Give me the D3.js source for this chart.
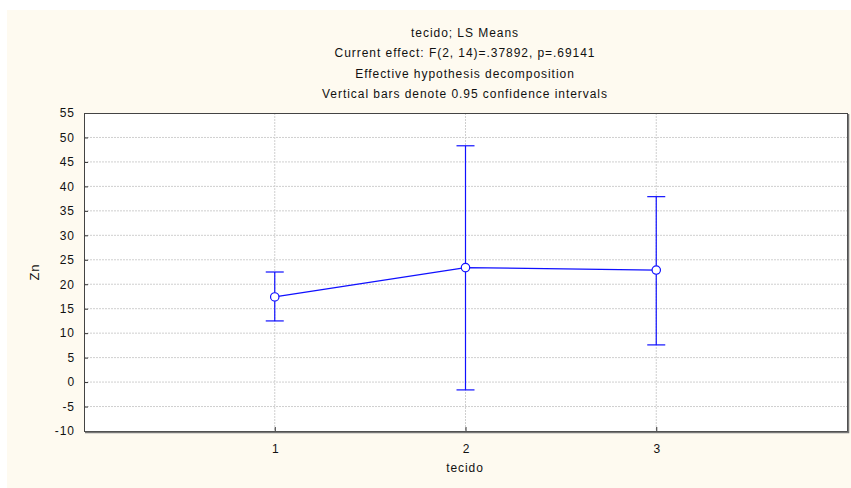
<!DOCTYPE html>
<html>
<head>
<meta charset="utf-8">
<script src="https://cdn.jsdelivr.net/npm/d3@7"></script>
<style>
html,body{margin:0;padding:0;background:#fff;}
svg{display:block;font-family:"Liberation Sans",Arial,sans-serif;}
</style>
</head>
<body>
<svg id="chart" width="851" height="488"></svg>
<script>
const categories = [1, 2, 3];
const means = [17.4, 23.4, 22.9];
const upper = [22.5, 48.3, 37.9];
const lower = [12.5, -1.6, 7.6];
const yTicks = [-10, -5, 0, 5, 10, 15, 20, 25, 30, 35, 40, 45, 50, 55];
const titleLines = ["tecido; LS Means", "Current effect: F(2, 14)=.37892, p=.69141", "Effective hypothesis decomposition", "Vertical bars denote 0.95 confidence intervals"];

const svg = d3.select("#chart");
const W = 851, H = 488;
const m = {left: 84, right: 847, top: 113, bottom: 431};
const FONT = "Liberation Sans, Arial, sans-serif";
const LS = "0.95px";

svg.append("rect").attr("x", 7).attr("y", 10).attr("width", W - 7).attr("height", H - 10).attr("fill", "#fefaf0");

const x = d3.scaleLinear().domain([0, 4]).range([m.left, m.right]);
const y = d3.scaleLinear().domain([-10, 55]).range([m.bottom, m.top]);

svg.append("rect").attr("x", m.left).attr("y", m.top).attr("width", m.right - m.left).attr("height", m.bottom - m.top).attr("fill", "#fff");

// gridlines
const g = svg.append("g");
g.selectAll("line.hy").data(yTicks.slice(1, -1)).join("line")
  .attr("x1", m.left).attr("x2", m.right).attr("y1", d => y(d)).attr("y2", d => y(d))
  .attr("stroke", "#cfcfcf").attr("stroke-dasharray", "2,1");
g.selectAll("line.vx").data(categories).join("line")
  .attr("y1", m.top).attr("y2", m.bottom).attr("x1", d => x(d)).attr("x2", d => x(d))
  .attr("stroke", "#cfcfcf").attr("stroke-dasharray", "2,1");

// axes
const yAxis = d3.axisLeft(y).tickValues(yTicks).tickSize(-4).tickPadding(9).tickFormat(d => String(d));
const ya = svg.append("g").attr("transform", `translate(${m.left},0)`).call(yAxis);
ya.select(".domain").remove();
ya.selectAll("line").attr("stroke", "#333");
ya.selectAll("text").attr("font-size", 12).attr("fill", "#111").attr("font-family", FONT).style("letter-spacing", LS);

const xAxis = d3.axisBottom(x).tickValues(categories).tickSize(-4).tickPadding(13).tickFormat(d => String(d));
const xa = svg.append("g").attr("transform", `translate(0,${m.bottom})`).call(xAxis);
xa.select(".domain").remove();
xa.selectAll("line").attr("stroke", "#333");
xa.selectAll("text").attr("font-size", 12).attr("fill", "#111").attr("font-family", FONT);

// frame
svg.append("rect").attr("x", m.left + 0.5).attr("y", m.top + 0.5).attr("width", m.right - m.left).attr("height", m.bottom - m.top)
  .attr("fill", "none").attr("stroke", "#444").attr("stroke-width", 1);
svg.append("path").attr("d", `M${m.right + 1.5},${m.top + 1}V${m.bottom + 1.5}H${m.left + 1}`)
  .attr("fill", "none").attr("stroke", "#777").attr("stroke-width", 1.5);

// data
const blue = "#1010ff";
const data = categories.map((c, i) => ({c, m: means[i], u: upper[i], l: lower[i]}));
const eb = svg.append("g");
eb.selectAll("line.v").data(data).join("line")
  .attr("x1", d => x(d.c)).attr("x2", d => x(d.c)).attr("y1", d => y(d.u)).attr("y2", d => y(d.l))
  .attr("stroke", blue).attr("stroke-width", 1.2);
eb.selectAll("line.cu").data(data).join("line")
  .attr("x1", d => x(d.c) - 9).attr("x2", d => x(d.c) + 9).attr("y1", d => y(d.u)).attr("y2", d => y(d.u))
  .attr("stroke", blue).attr("stroke-width", 1.2);
eb.selectAll("line.cl").data(data).join("line")
  .attr("x1", d => x(d.c) - 9).attr("x2", d => x(d.c) + 9).attr("y1", d => y(d.l)).attr("y2", d => y(d.l))
  .attr("stroke", blue).attr("stroke-width", 1.2);

svg.append("path").datum(data)
  .attr("d", d3.line().x(d => x(d.c)).y(d => y(d.m)))
  .attr("fill", "none").attr("stroke", blue).attr("stroke-width", 1.2);

svg.selectAll("circle.pt").data(data).join("circle")
  .attr("cx", d => x(d.c)).attr("cy", d => y(d.m)).attr("r", 4.2)
  .attr("fill", "#fff").attr("stroke", blue).attr("stroke-width", 1.2);

// titles
svg.selectAll("text.title").data(titleLines).join("text")
  .attr("x", 465).attr("y", (d, i) => 37 + i * 20.3)
  .attr("text-anchor", "middle").attr("font-size", 12).attr("fill", "#111").style("letter-spacing", LS).text(d => d);

svg.append("text").attr("x", 465).attr("y", 472).attr("text-anchor", "middle")
  .attr("font-size", 12).attr("fill", "#111").style("letter-spacing", LS).text("tecido");

svg.append("text").attr("transform", "translate(39,272) rotate(-90)").attr("text-anchor", "middle")
  .attr("font-size", 13).attr("fill", "#111").style("letter-spacing", LS).text("Zn");
</script>
</body>
</html>
